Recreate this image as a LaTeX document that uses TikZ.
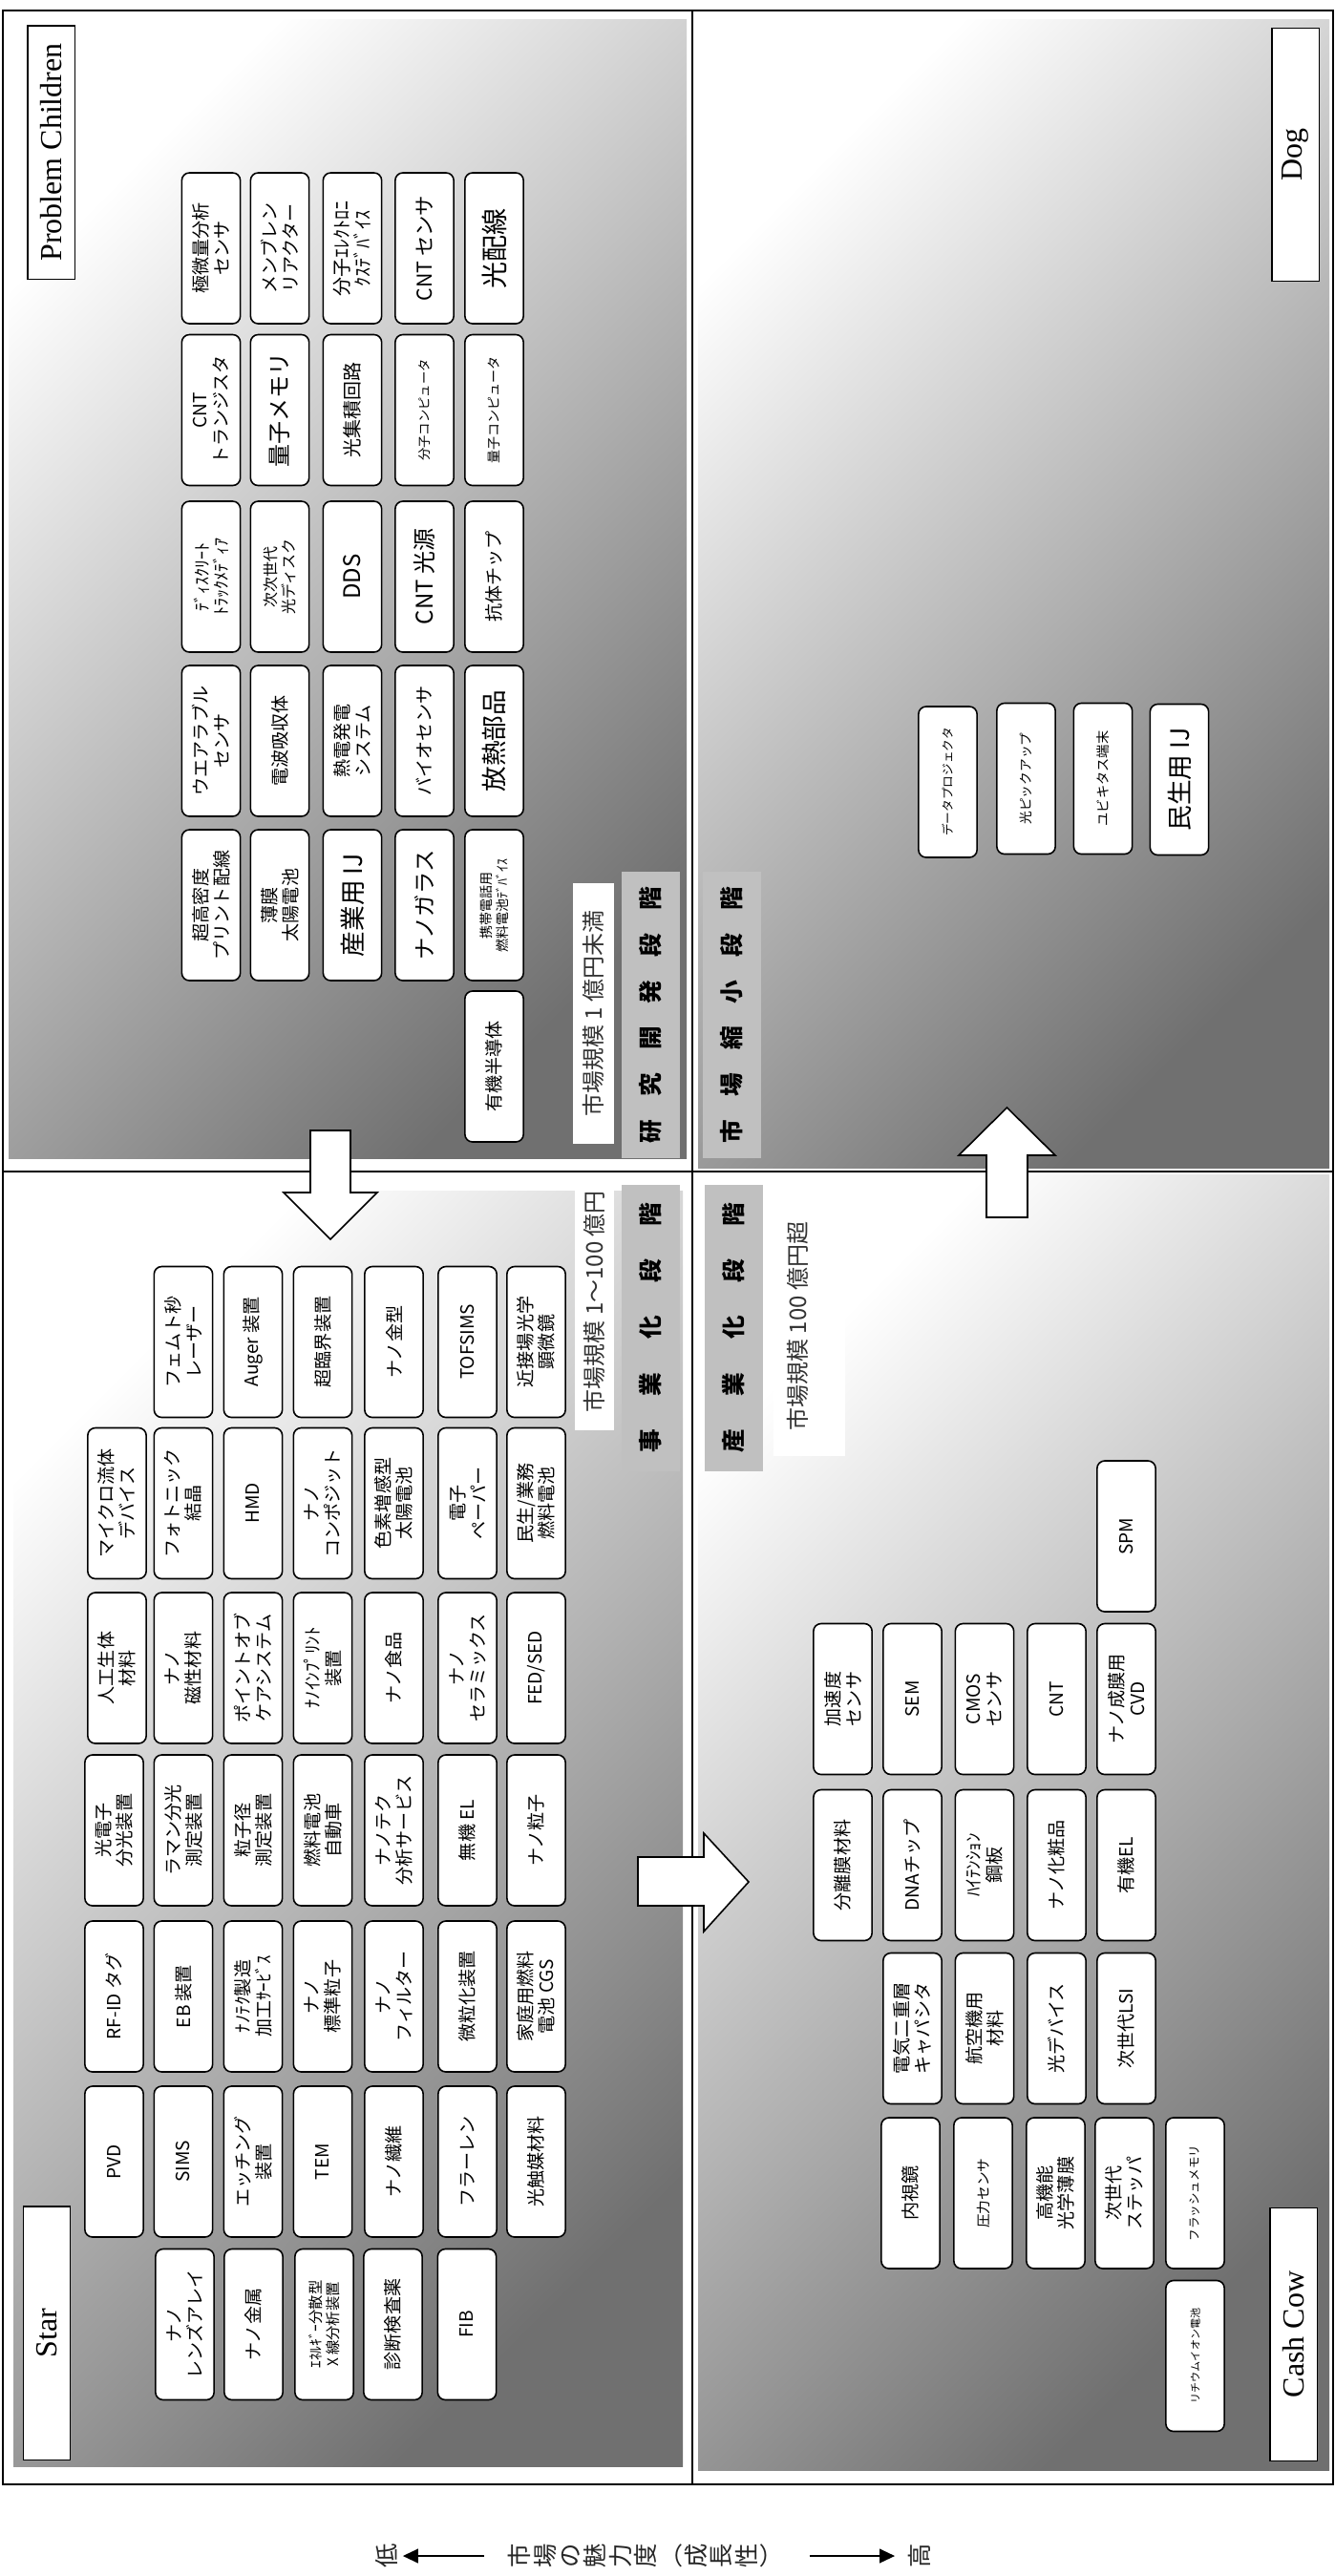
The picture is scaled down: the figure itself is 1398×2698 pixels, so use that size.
\documentclass[tikz,border=0pt]{standalone}
\usepackage{fontspec}
\setmainfont{Liberation Serif}
\newfontfamily\jp{Noto Sans CJK JP}
\usetikzlibrary{arrows.meta}
\newcommand\szN{\fontsize{14.3}{16.5}\selectfont}
\newcommand\szL{\fontsize{20}{22}\selectfont}
\newcommand\szM{\fontsize{17.5}{20}\selectfont}
\newcommand\szS{\fontsize{10}{12}\selectfont}
\newcommand\szT{\fontsize{11.5}{13.5}\selectfont}
\definecolor{stagegray}{HTML}{C0C0C0}
\definecolor{quaddark}{HTML}{707070}
\begin{document}
\begin{tikzpicture}[x=0.75pt,y=-0.75pt,
  quad/.style={shading=axis, top color=white, bottom color=quaddark, shading angle=45},
  box/.style={draw, line width=1.2pt, fill=white, rounded corners=6pt, rotate=90,
    minimum width=118.5pt, minimum height=46pt, inner sep=1pt, align=center, font=\jp\szN},
  qlabel/.style={draw, line width=1pt, fill=white, rotate=90, minimum width=199pt,
    minimum height=37pt, inner sep=0pt, font=\fontsize{24}{28}\selectfont},
  stage/.style={fill=stagegray, rotate=90, minimum width=225pt, minimum height=45.75pt,
    inner sep=0pt, font=\jp\bfseries\fontsize{18.5}{20}\selectfont},
  wtext/.style={rotate=90, inner sep=0pt, text=black!80, font=\jp\fontsize{18}{20}\selectfont},
  frameline/.style={line width=1.5pt},
  blockarrow/.style={draw, line width=1.2pt, fill=white, line join=miter},
  axistext/.style={rotate=90, inner sep=0pt, align=center, text=black!85, font=\jp\fontsize{19}{19.8}\selectfont},
  axisarrow/.style={line width=1.5pt, -{Triangle[length=12pt,width=11pt]}}
]
\useasboundingbox (0,0) rectangle (1398,2698);
\fill[white] (0,0) rectangle (1398,2698);

% quadrant backgrounds
\shade[quad] (9,20) rectangle (719,1213);
\shade[quad] (731,20) rectangle (1392,1223);
\shade[quad] (14,1247) rectangle (715,2583);
\shade[quad] (731,1230) rectangle (1392,2587);

% frame
\draw[frameline] (3.3,11) rectangle (1396,2602);
\draw[frameline] (725,11) -- (725,2602);
\draw[frameline] (3.3,1227) -- (1396,1227);

% quadrant labels
\node[qlabel] (lpc) at (53.5,159.5) {Problem Children};
\node[qlabel] (ldog) at (1356.5,162) {Dog};
\node[qlabel] (lstar) at (49,2443.5) {Star};
\node[qlabel] (lcow) at (1354.5,2445) {Cash Cow};

% stage labels
\fill[white] (600,925) rectangle (643,1198);
\node[wtext] (m1) at (621.5,1061.5) {市場規模 1 億円未満};
\node[stage] (st1) at (681.5,1063) {研\hspace{18pt}究\hspace{18pt}開\hspace{18pt}発\hspace{18pt}段\hspace{18pt}階};
\node[stage] (st4) at (766.5,1063) {市\hspace{18pt}場\hspace{18pt}縮\hspace{18pt}小\hspace{18pt}段\hspace{18pt}階};
\fill[white] (602,1228) rectangle (643,1498);
\node[wtext] (m2) at (622.5,1363) {市場規模 1〜100 億円};
\node[stage] (st2) at (681,1390.5) {事\hspace{26pt}業\hspace{26pt}化\hspace{26pt}段\hspace{26pt}階};
\node[stage] (st3) at (768.5,1390.5) {産\hspace{26pt}業\hspace{26pt}化\hspace{26pt}段\hspace{26pt}階};
\fill[white] (810,1253) rectangle (885,1525);
\node[wtext] (m3) at (835,1389) {市場規模 100 億円超};

% block arrows
\draw[blockarrow] (325,1184) -- (367,1184) -- (367,1249) -- (395,1249) -- (346,1298) -- (297,1249) -- (325,1249) -- cycle;
\draw[blockarrow] (668,1945) -- (737,1945) -- (737,1920) -- (784,1971) -- (737,2023) -- (737,1996) -- (668,1996) -- cycle;
\draw[blockarrow] (1033,1275) -- (1033,1210) -- (1004,1210) -- (1054.5,1160) -- (1105,1210) -- (1076,1210) -- (1076,1275) -- cycle;

% ---------------- Problem Children ----------------
\node[box] (pc11) at (221,260) {極微量分析\\センサ};
\node[box] (pc12) at (293,260) {メンブレン\\リアクター};
\node[box, font=\jp\fontsize{15}{16.5}\selectfont] (pc13) at (369,260) {分子ｴﾚｸﾄﾛﾆ\\ｸｽﾃﾞﾊﾞｲｽ};
\node[box, font=\jp\fontsize{16}{18}\selectfont] (pc14) at (444.5,260) {CNT センサ};
\node[box, font=\jp\fontsize{21}{23}\selectfont] (pc15) at (517.5,260) {光配線};
\node[box] (pc21) at (221,429.5) {CNT\\トランジスタ};
\node[box, font=\jp\fontsize{18}{20}\selectfont] (pc22) at (293,429.5) {量子メモリ};
\node[box, font=\jp\fontsize{15}{17}\selectfont] (pc23) at (369,429.5) {光集積回路};
\node[box, font=\jp\szS] (pc24) at (444.5,429.5) {分子コンピュータ};
\node[box, font=\jp\fontsize{10.5}{12}\selectfont] (pc25) at (517.5,429.5) {量子コンピュータ};
\node[box, font=\jp\fontsize{13.5}{15}\selectfont] (pc31) at (221,604) {ﾃﾞｨｽｸﾘｰﾄ\\ﾄﾗｯｸﾒﾃﾞｨｱ};
\node[box, font=\jp\fontsize{12}{14.5}\selectfont] (pc32) at (293,604) {次次世代\\光ディスク};
\node[box, font=\jp\fontsize{18}{20}\selectfont] (pc33) at (369,604) {DDS};
\node[box, font=\jp\fontsize{18}{20}\selectfont] (pc34) at (444.5,604) {CNT 光源};
\node[box] (pc35) at (517.5,604) {抗体チップ};
\node[box] (pc41) at (221,776) {ウエアラブル\\センサ};
\node[box] (pc42) at (293,776) {電波吸収体};
\node[box] (pc43) at (369,776) {熱電発電\\システム};
\node[box] (pc44) at (444.5,776) {バイオセンサ};
\node[box, font=\jp\szL] (pc45) at (517.5,776) {放熱部品};
\node[box] (pc51) at (221,948) {超高密度\\プリント配線};
\node[box] (pc52) at (293,948) {薄膜\\太陽電池};
\node[box, font=\jp\szL] (pc53) at (369,948) {産業用 IJ};
\node[box, font=\jp\szM] (pc54) at (444.5,948) {ナノガラス};
\node[box, font=\jp\fontsize{10.5}{12.5}\selectfont] (pc55) at (517.5,948) {携帯電話用\\燃料電池ﾃﾞﾊﾞｲｽ};
\node[box] (pc65) at (517.5,1117) {有機半導体};

% ---------------- Dog ----------------
\node[box, font=\jp\fontsize{9.5}{11}\selectfont] (dg1) at (992.5,819) {データプロジェクタ};
\node[box, font=\jp\fontsize{10.3}{12}\selectfont] (dg2) at (1074.5,815.5) {光ピックアップ};
\node[box, font=\jp\fontsize{10.7}{12}\selectfont] (dg3) at (1155,815.5) {ユビキタス端末};
\node[box, font=\jp\szL] (dg4) at (1235,816.5) {民生用 IJ};

% ---------------- Star ----------------
\node[box] (sa12) at (192,1405.5) {フェムト秒\\レーザー};
\node[box] (sa13) at (265,1405.5) {Auger 装置};
\node[box] (sa14) at (338,1405.5) {超臨界装置};
\node[box] (sa15) at (412.5,1405.5) {ナノ金型};
\node[box] (sa16) at (489.5,1405.5) {TOFSIMS};
\node[box] (sa17) at (561.5,1405.5) {近接場光学\\顕微鏡};
\node[box] (sa21) at (122.5,1574.5) {マイクロ流体\\デバイス};
\node[box] (sa22) at (192,1574.5) {フォトニック\\結晶};
\node[box] (sa23) at (265,1574.5) {HMD};
\node[box] (sa24) at (338,1574.5) {ナノ\\コンポジット};
\node[box] (sa25) at (412.5,1574.5) {色素増感型\\太陽電池};
\node[box] (sa26) at (489.5,1574.5) {電子\\ペーパー};
\node[box] (sa27) at (561.5,1574.5) {民生/業務\\燃料電池};
\node[box] (sa31) at (122.5,1747) {人工生体\\材料};
\node[box] (sa32) at (192,1747) {ナノ\\磁性材料};
\node[box] (sa33) at (265,1747) {ポイントオブ\\ケアシステム};
\node[box] (sa34) at (338,1747) {ﾅﾉｲﾝﾌﾟﾘﾝﾄ\\装置};
\node[box] (sa35) at (412.5,1747) {ナノ食品};
\node[box] (sa36) at (489.5,1747) {ナノ\\セラミックス};
\node[box] (sa37) at (561.5,1747) {FED/SED};
\node[box] (sa41) at (119.5,1917) {光電子\\分光装置};
\node[box] (sa42) at (192,1917) {ラマン分光\\測定装置};
\node[box] (sa43) at (265,1917) {粒子径\\測定装置};
\node[box] (sa44) at (338,1917) {燃料電池\\自動車};
\node[box] (sa45) at (412.5,1917) {ナノテク\\分析サービス};
\node[box] (sa46) at (489.5,1917) {無機 EL};
\node[box] (sa47) at (561.5,1917) {ナノ粒子};
\node[box] (sa51) at (119.5,2091) {RF-ID タグ};
\node[box] (sa52) at (192,2091) {EB 装置};
\node[box] (sa53) at (265,2091) {ﾅﾉﾃｸ製造\\加工ｻｰﾋﾞｽ};
\node[box] (sa54) at (338,2091) {ナノ\\標準粒子};
\node[box] (sa55) at (412.5,2091) {ナノ\\フィルター};
\node[box] (sa56) at (489.5,2091) {微粒化装置};
\node[box] (sa57) at (561.5,2091) {家庭用燃料\\電池 CGS};
\node[box] (sa61) at (119.5,2264) {PVD};
\node[box] (sa62) at (192,2264) {SIMS};
\node[box] (sa63) at (265,2264) {エッチング\\装置};
\node[box] (sa64) at (338,2264) {TEM};
\node[box] (sa65) at (412.5,2264) {ナノ繊維};
\node[box] (sa66) at (489.5,2264) {フラーレン};
\node[box] (sa67) at (561.5,2264) {光触媒材料};
\node[box] (sa72) at (193.5,2434.5) {ナノ\\レンズアレイ};
\node[box] (sa73) at (265.5,2434.5) {ナノ金属};
\node[box, font=\jp\szT] (sa74) at (339.5,2434.5) {ｴﾈﾙｷﾞｰ分散型\\X 線分析装置};
\node[box] (sa75) at (411.5,2434.5) {診断検査薬};
\node[box] (sa76) at (489,2434.5) {FIB};

% ---------------- Cash Cow ----------------
\node[box] (cc15) at (1179.5,1609) {SPM};
\node[box] (cc21) at (882.5,1779.5) {加速度\\センサ};
\node[box] (cc22) at (955.5,1779.5) {SEM};
\node[box] (cc23) at (1031,1779.5) {CMOS\\センサ};
\node[box] (cc24) at (1106.5,1779.5) {CNT};
\node[box] (cc25) at (1179.5,1779.5) {ナノ成膜用\\CVD};
\node[box] (cc31) at (882.5,1953.5) {分離膜材料};
\node[box] (cc32) at (955.5,1953.5) {DNAチップ};
\node[box] (cc33) at (1031,1953.5) {ﾊｲﾃﾝｼｮﾝ\\鋼板};
\node[box] (cc34) at (1106.5,1953.5) {ナノ化粧品};
\node[box] (cc35) at (1179.5,1953.5) {有機EL};
\node[box] (cc42) at (955.5,2124.5) {電気二重層\\キャパシタ};
\node[box] (cc43) at (1031,2124.5) {航空機用\\材料};
\node[box] (cc44) at (1106.5,2124.5) {光デバイス};
\node[box] (cc45) at (1179.5,2124.5) {次世代LSI};
\node[box] (cc52) at (953.5,2297) {内視鏡};
\node[box, font=\jp\fontsize{11}{13}\selectfont] (cc53) at (1029.5,2297) {圧力センサ};
\node[box] (cc54) at (1105.5,2297) {高機能\\光学薄膜};
\node[box] (cc55) at (1177.5,2297) {次世代\\ステッパ};
\node[box, font=\jp\fontsize{9.4}{11}\selectfont] (cc56) at (1251.5,2297) {フラッシュメモリ};
\node[box, font=\jp\fontsize{8.3}{10}\selectfont] (cc66) at (1251.5,2467.5) {リチウムイオン電池};

% ---------------- axis ----------------
\node[axistext] (low) at (405,2677) {低};
\node[axistext] (title) at (675,2677) {市\\場\\の\\魅\\力\\度\\︵\\成\\長\\性\\︶};
\node[axistext] (high) at (963,2677) {高};
\draw[axisarrow, shorten <=18.75pt, shorten >=3.75pt] (title) -- (low);
\draw[axisarrow, shorten <=22.5pt, shorten >=10.5pt] (title) -- (high);
\end{tikzpicture}
\end{document}
